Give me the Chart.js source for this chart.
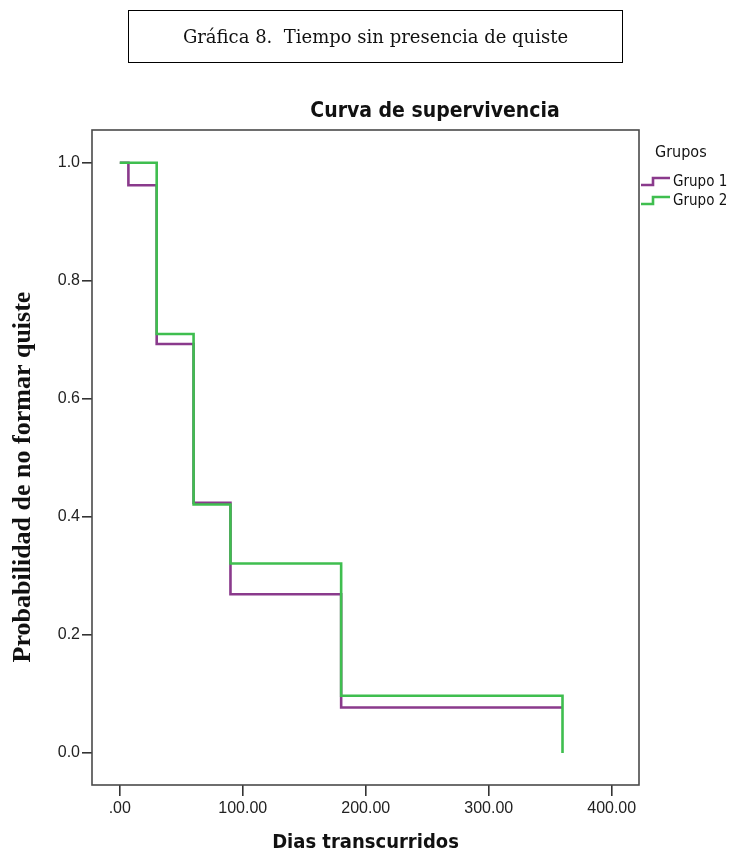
<!DOCTYPE html>
<html>
<head>
<meta charset="utf-8">
<script src="https://cdn.jsdelivr.net/npm/chart.js@4.4.1/dist/chart.umd.min.js"></script>
<style>
  html, body { margin: 0; padding: 0; background: #fff; }
  #page { position: relative; width: 731px; height: 857px; overflow: hidden; }
  #chart { position: absolute; left: 0; top: 0; }
  #caption {
    position: absolute; left: 128px; top: 10px; width: 493px; height: 51px;
    border: 1px solid #000; box-sizing: content-box;
    font-family: "DejaVu Serif", serif; font-size: 18px; color: #111;
    display: flex; align-items: center; justify-content: center; white-space: pre;
  }
  #title {
    position: absolute; left: 250px; width: 370px; top: 98px; text-align: center;
    font-family: "DejaVu Sans Condensed", sans-serif;
    font-weight: bold; font-size: 21px; color: #111;
  }
  #legend {
    position: absolute; left: 640px; top: 142px; width: 91px;
    font-family: "DejaVu Sans Condensed", sans-serif; color: #111;
  }
  #legend .head { font-size: 16px; padding-left: 15px; margin-bottom: 10px; }
  #legend .item { display: flex; align-items: center; font-size: 15px; height: 19px; }
  #legend svg { margin-right: 2px; }
</style>
</head>
<body>
<div id="page">
  <canvas id="chart" width="731" height="857"></canvas>
  <div id="caption">Gráfica 8.  Tiempo sin presencia de quiste</div>
  <div id="title">Curva de supervivencia</div>
  <div id="legend"></div>
</div>
<script>
// Kaplan-Meier steps
const groupNames = ['Grupo 1', 'Grupo 2'];
const groupColors = ['#8a3a8c', '#3fbe4f'];
const times1 = [0, 7, 30, 60, 90, 180, 360];
const surv1 = [1.0, 0.962, 0.693, 0.424, 0.269, 0.077, 0.077];
const times2 = [0, 30, 60, 90, 180, 360];
const surv2 = [1.0, 0.710, 0.421, 0.321, 0.097, 0.0];
const xTicks = [0, 100, 200, 300, 400];
const yTicks = [0, 0.2, 0.4, 0.6, 0.8, 1.0];

const tickFont = { family: '"Liberation Sans", Arial, sans-serif', size: 16 };
const narrow = '"DejaVu Sans Condensed", sans-serif';

function toPoints(ts, vs) {
  return ts.map((t, i) => ({ x: t, y: vs[i] }));
}

// box around the plot area
const frame = {
  id: 'frame',
  beforeDatasetsDraw(chart) {
    const a = chart.chartArea, ctx = chart.ctx;
    ctx.save();
    ctx.strokeStyle = '#4a4a4a';
    ctx.lineWidth = 1.6;
    ctx.strokeRect(a.left, a.top, a.right - a.left, a.bottom - a.top);
    ctx.restore();
  }
};

new Chart(document.getElementById('chart'), {
  type: 'line',
  data: {
    datasets: [
      { label: groupNames[0], data: toPoints(times1, surv1), borderColor: groupColors[0], order: 2 },
      { label: groupNames[1], data: toPoints(times2, surv2), borderColor: groupColors[1], order: 1 }
    ]
  },
  options: {
    responsive: false,
    animation: false,
    layout: { padding: { top: 130, right: 92, left: 0, bottom: 0 } },
    elements: {
      line: { stepped: 'before', borderWidth: 2.6, fill: false, tension: 0 },
      point: { radius: 0 }
    },
    plugins: { legend: { display: false }, tooltip: { enabled: false } },
    scales: {
      x: {
        type: 'linear', min: -22.6, max: 422.2,
        afterFit(s) { s.height = 72; },
        afterBuildTicks(s) { s.ticks = xTicks.map(v => ({ value: v })); },
        grid: { drawOnChartArea: false, drawTicks: true, tickLength: 11, color: '#333', lineWidth: 1.6 },
        border: { display: false },
        ticks: {
          font: tickFont, color: '#222', padding: 3, maxRotation: 0,
          callback: v => v === 0 ? '.00' : v.toFixed(2)
        },
        title: {
          display: true, text: 'Dias transcurridos', color: '#111',
          font: { family: narrow, size: 20, weight: 'bold' }, padding: { top: 0, bottom: 2 }
        }
      },
      y: {
        type: 'linear', min: -0.0542, max: 1.0556,
        afterFit(s) { s.width = 92; },
        afterBuildTicks(s) { s.ticks = yTicks.map(v => ({ value: v })); },
        grid: { drawOnChartArea: false, drawTicks: true, tickLength: 10, color: '#333', lineWidth: 1.6 },
        border: { display: false },
        ticks: { font: tickFont, color: '#222', padding: 2, callback: v => v.toFixed(1) },
        title: {
          // trailing spaces push the rotated text a little lower, as in the original
          display: true, text: 'Probabilidad de no formar quiste      ', color: '#111',
          font: { family: '"Liberation Serif", "Times New Roman", serif', size: 26, weight: 'bold' },
          padding: { top: 8, bottom: 0 }
        }
      }
    }
  },
  plugins: [frame]
});

// legend with little step symbols
const legend = document.getElementById('legend');
legend.innerHTML = '<div class="head">Grupos</div>' + groupNames.map((name, i) =>
  '<div class="item"><svg width="31" height="12"><polyline points="1,10 13,10 13,3 30,3" fill="none" stroke="' +
  groupColors[i] + '" stroke-width="2.6"/></svg>' + name + '</div>').join('');
</script>
</body>
</html>
